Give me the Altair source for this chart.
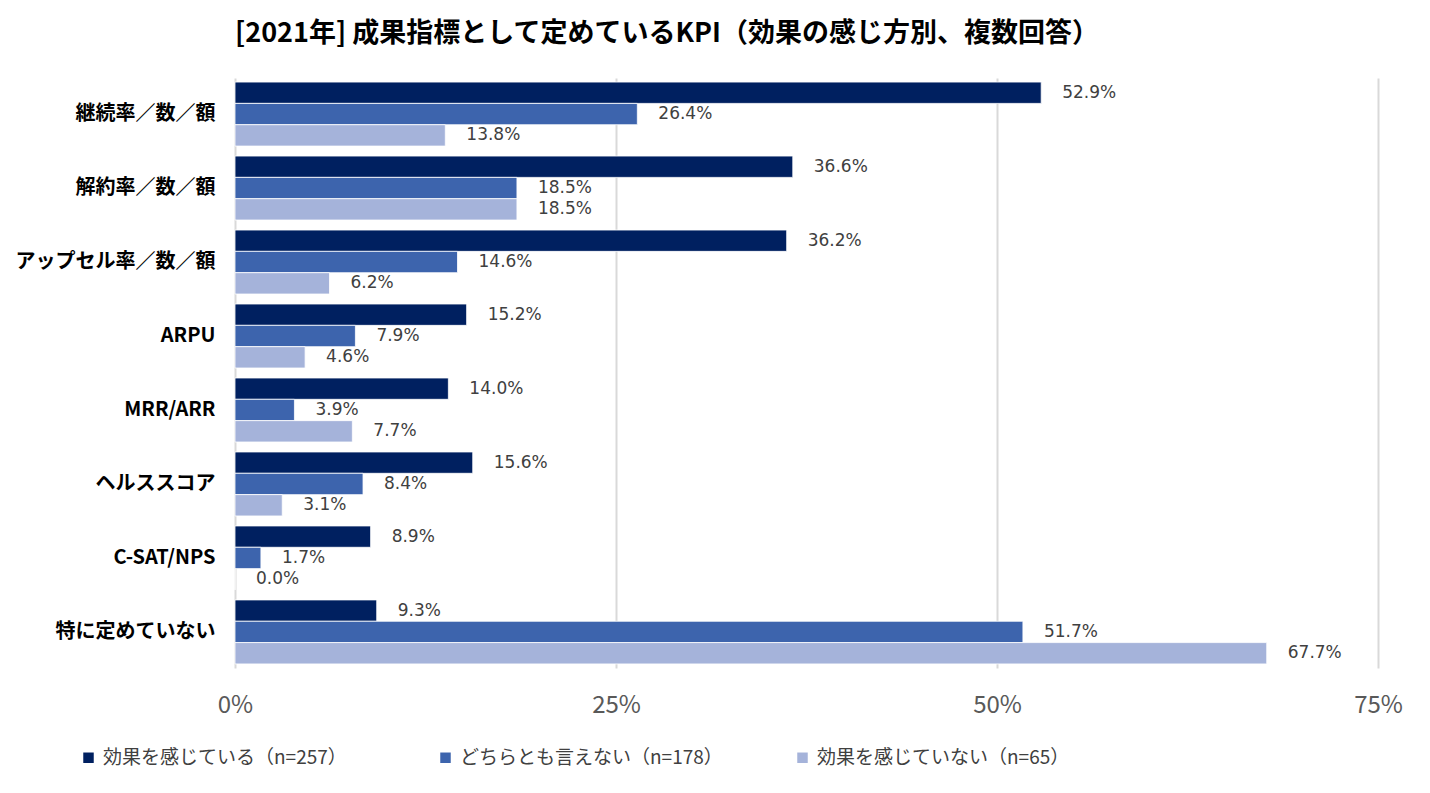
import altair as alt
import pandas as pd

categories = ["継続率／数／額", "解約率／数／額", "アップセル率／数／額", "ARPU",
              "MRR/ARR", "ヘルススコア", "C-SAT/NPS", "特に定めていない"]
series = ["効果を感じている（n=257）", "どちらとも言えない（n=178）", "効果を感じていない（n=65）"]
s1 = [52.9, 36.6, 36.2, 15.2, 14.0, 15.6, 8.9, 9.3]
s2 = [26.4, 18.5, 14.6, 7.9, 3.9, 8.4, 1.7, 51.7]
s3 = [13.8, 18.5, 6.2, 4.6, 7.7, 3.1, 0.0, 67.7]
colors = ["#002060", "#3D64AD", "#A5B3DA"]
x_ticks = [0, 0.25, 0.5, 0.75]

rows = []
for vals, s in zip([s1, s2, s3], series):
    for c, v in zip(categories, vals):
        rows.append({"category": c, "series": s, "value": v / 100})
df = pd.DataFrame(rows)

FONT = "Noto Sans CJK JP"

base = alt.Chart(df).encode(
    y=alt.Y("category:N", sort=categories, title=None,
            scale=alt.Scale(paddingInner=0.135, paddingOuter=0.055),
            axis=alt.Axis(domain=False, ticks=False, labelFontSize=20,
                          labelFontWeight="bold", labelColor="#000000",
                          labelFont=FONT, labelPadding=20, labelLimit=300)),
    yOffset=alt.YOffset("series:N", sort=series, scale=alt.Scale(paddingInner=0, paddingOuter=0)),
    x=alt.X("value:Q", title=None,
            scale=alt.Scale(domain=[0, 0.75], nice=False),
            axis=alt.Axis(values=x_ticks, format=".0%", domain=False, ticks=False,
                          gridColor="#D9D9D9", gridWidth=2, labelFontSize=24,
                          labelColor="#595959", labelFont=FONT, labelPadding=25,
                          labelFlush=False)),
)

bars = base.mark_bar(stroke="white", strokeWidth=0.8).encode(
    color=alt.Color("series:N", sort=series,
                    scale=alt.Scale(domain=series, range=colors),
                    legend=alt.Legend(title=None, orient="none", legendX=-156, legendY=670,
                                      direction="horizontal", columns=3, columnPadding=70,
                                      gridAlign="all",
                                      symbolType="square", symbolSize=110, symbolStrokeWidth=0,
                                      labelFontSize=19, labelFont=FONT, labelColor="#404040",
                                      labelLimit=400, labelOffset=5))
)

labels = base.mark_text(align="left", baseline="middle", dx=21, fontSize=17,
                        font="DejaVu Sans", color="#404040").encode(
    text=alt.Text("value:Q", format=".1%")
)

chart = (bars + labels).properties(
    width=1143, height=590,
    padding={"left": 227, "top": 70, "right": 40, "bottom": 110},
    autosize=alt.AutoSizeParams(type="none"),
    title=alt.Title("[2021年] 成果指標として定めているKPI（効果の感じ方別、複数回答）",
                    anchor="start", frame="group", fontSize=27, fontWeight="bold",
                    font=FONT, color="#000000", offset=30),
).configure_view(stroke=None)

chart.save("out.html", embed_options={"renderer": "svg", "actions": False})
